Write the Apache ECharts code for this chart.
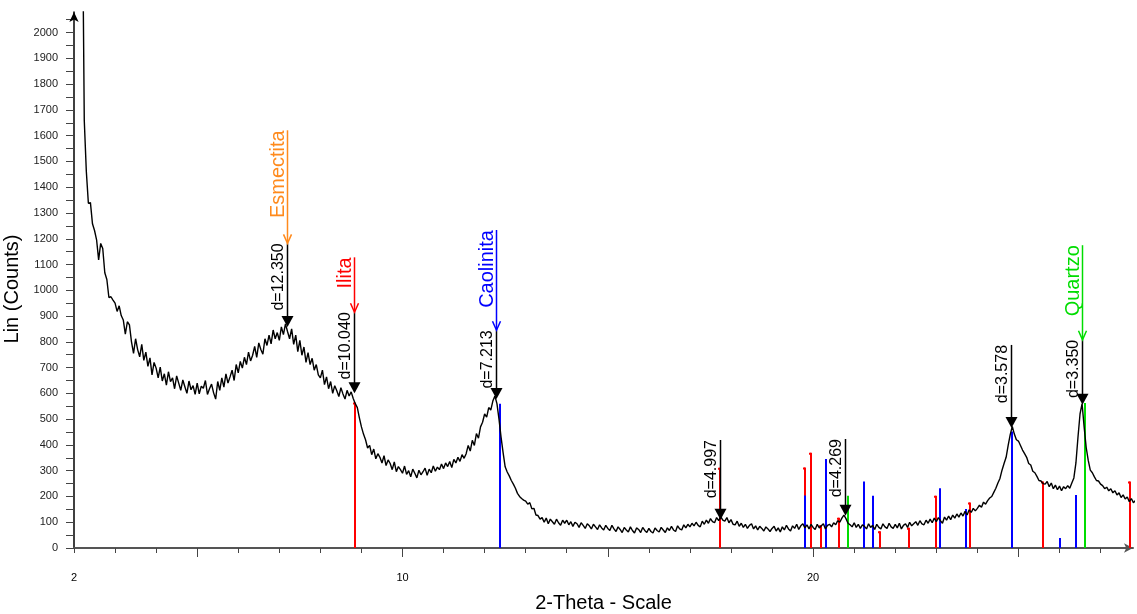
<!DOCTYPE html>
<html><head><meta charset="utf-8">
<script src="https://cdn.jsdelivr.net/npm/echarts@6/dist/echarts.min.js"></script>
<style>html,body{margin:0;padding:0;background:#fff}#c{width:1137px;height:614px}</style>
</head><body><div id="c"></div>
<script>
// ---------- DATA ----------
const scanStep = 0.05;
// each row: [start 2-theta, counts at start, start+step, ...]
const scanRows = [
  [2.20, 2600,1660,1462,1338,1340,1258,1232,1196,1118,1182,1162,1068,1042,972,975,962],
  [3.00, 950,918,940,902,885,830,878,866,800,755,812,770,742,790,728,760,705,738,672,720],
  [4.00, 698,660,702,648,676,632,684,646,660,618,668,640,612,652,626,600,648,614,630,596],
  [5.00, 640,598,628,620,650,596,618,636,602,578,646,612,660,624,676,640,664,690,650,712],
  [6.00, 680,724,698,740,712,760,726,748,782,740,796,770,752,812,786,826,792,846,812,836],
  [7.00, 806,858,828,870,840,812,850,790,826,762,806,748,780,720,758,712,736,690,712,672],
  [8.00, 660,690,634,664,618,646,600,630,610,588,622,598,578,612,590,606,580,560,545,505],
  [9.00, 470,442,420,388,398,362,384,346,366,352,330,358,320,342,328,304,334,296,316,304],
  [10.00, 290,318,286,300,276,306,290,272,302,284,296,310,282,306,292,318,298,314,304,326],
  [11.00, 308,330,316,336,312,344,330,352,336,362,348,366,398,376,418,398,444,426,470,488],
  [12.00, 520,508,545,535,570,590,560,500,430,370,315,295,280,262,248,232,212,200,192,186],
  [13.00, 182,170,176,152,154,128,126,112,118,100,116,94,112,102,92,112,98,88,108,96],
  [14.00, 108,90,102,84,100,94,80,98,88,76,94,86,74,92,82,72,90,78,70,88],
  [15.00, 76,68,88,74,64,82,72,60,80,70,62,82,68,58,78,72,60,80,68,60],
  [16.00, 76,64,58,78,68,62,80,70,60,78,68,84,70,64,86,74,70,90,78,92],
  [17.00, 82,96,86,100,88,82,104,92,108,96,114,102,98,118,106,122,108,104,118,98],
  [18.00, 110,92,90,104,84,96,80,92,76,88,94,74,86,70,84,76,66,82,74,64],
  [19.00, 76,84,66,78,62,82,70,88,74,66,86,76,92,72,86,94,78,90,74,92],
  [20.00, 80,72,92,78,86,94,74,88,92,82,98,90,106,100,116,128,114,96,90,82],
  [21.00, 98,80,92,76,90,84,74,94,80,88,72,92,80,74,94,82,76,96,82,76],
  [22.00, 92,78,96,74,88,94,80,100,86,94,102,88,106,94,90,108,96,112,98,116],
  [23.00, 102,118,106,96,120,108,124,110,128,116,132,120,136,124,142,128,148,138,154,144],
  [24.00, 154,166,158,178,170,184,194,200,216,232,252,270,302,328,352,398,440,472,442,420],
  [25.00, 415,398,380,366,352,328,322,298,292,278,262,260,250,248,258,238,252,230,244,226],
  [26.00, 240,222,238,230,242,232,252,272,330,430,520,560,470,390,340,302,292,276,262,260],
  [27.00, 248,242,230,236,222,230,214,222,206,214,196,206,190,198,180,192,176,184,170]
];

const xMinorTicks = [2,3,4,5,6,7,8,9,10,11,12,13,14,15,16,17,18,19,20,21,22,23,24,25,26,27];
const xMajorTicks = [5,10,15,20,25];
const xTickLabels = [2,10,20];
const yTicks = [0,50,100,150,200,250,300,350,400,450,500,550,600,650,700,750,800,850,900,950,1000,1050,1100,1150,1200,1250,1300,1350,1400,1450,1500,1550,1600,1650,1700,1750,1800,1850,1900,1950,2000,2050];
const yTickLabels = [0,100,200,300,400,500,600,700,800,900,1000,1100,1200,1300,1400,1500,1600,1700,1800,1900,2000];

// reference stick patterns (2-theta, height in counts)
const ilitaTheta  = [8.85, 17.72, 19.79, 19.94, 20.20, 20.62, 21.63, 22.34, 22.99, 23.83, 25.59, 27.71];
const ilitaHeight = [565, 311, 312, 370, 88, 117, 65, 79, 203, 177, 258, 258];
const caolinitaTheta  = [12.37, 19.81, 20.31, 21.23, 21.47, 23.09, 23.72, 24.84, 26.01, 26.39];
const caolinitaHeight = [560, 204, 345, 258, 203, 232, 151, 452, 39, 206];
const quartzoTheta  = [20.86, 26.61];
const quartzoHeight = [203, 563];

// peak d-spacing markers
const peakLabels = ['d=12.350','d=10.040','d=7.213','d=4.997','d=4.269','d=3.578','d=3.350'];
const peakTheta  = [7.18, 8.83, 12.27, 17.72, 20.78, 24.83, 26.54];
const peakCounts = [858, 601, 578, 110, 125, 466, 556];
const peakLineTop = [1182, 915, 845, 419, 423, 788, 808];

// phase identification arrows
const phaseNames = ['Esmectita','Ilita','Caolinita','Quartzo'];
const phaseTheta = [7.18, 8.83, 12.27, 26.54];
const phaseTop   = [1621, 1128, 1234, 1175];
const phaseBottom = [1182, 915, 845, 808];

// ---------- STYLE ----------
const FONT = '"Liberation Sans", Arial, Helvetica, sans-serif';
const phaseColors = ['#ff8a1c', '#ff0000', '#0000ff', '#00dd00'];
const RED = '#ff0000', BLUE = '#0000ff', GREEN = '#00dd00';

// ---------- BUILD ----------
const curve = [];
scanRows.forEach(row => {
  const start = row[0];
  for (let i = 1; i < row.length; i++) curve.push([+(start + (i - 1) * scanStep).toFixed(2), row[i]]);
});

function stickSeries(name, thetas, heights, color, cap) {
  return {
    type: 'custom', name: name, z: 2, clip: true, xAxisIndex: 0, yAxisIndex: 0,
    data: thetas.map((t, i) => [t, heights[i]]),
    renderItem: function (params, api) {
      const p0 = api.coord([api.value(0), 0]);
      const p1 = api.coord([api.value(0), api.value(1)]);
      const x = Math.round(p0[0]);
      const ch = [{ type: 'rect', shape: { x: x - 1, y: p1[1], width: 2, height: p0[1] - p1[1] }, style: { fill: color } }];
      if (cap) ch.push({ type: 'rect', shape: { x: x - 2, y: p1[1], width: 2, height: 2 }, style: { fill: color } });
      return { type: 'group', children: ch };
    }
  };
}

const option = {
  animation: false,
  backgroundColor: '#ffffff',
  grid: { left: 74, right: 4, top: 12, bottom: 66, containLabel: false, outerBoundsMode: 'none' },
  xAxis: [
    {
      type: 'value', min: 2, max: 27.79, position: 'bottom',
      name: '2-Theta - Scale', nameLocation: 'middle', nameGap: 45,
      nameTextStyle: { fontSize: 20, color: '#000', fontFamily: FONT },
      axisLine: { show: true, onZero: false, symbol: ['none', 'arrow'], symbolSize: [7, 9], lineStyle: { color: '#555', width: 2 } },
      axisTick: { show: true, customValues: xMinorTicks, length: 5, lineStyle: { color: '#444', width: 1 } },
      axisLabel: { show: true, customValues: xTickLabels, margin: 24, fontSize: 11, color: '#000', fontFamily: FONT, formatter: v => String(v) },
      splitLine: { show: false }
    },
    {
      type: 'value', min: 2, max: 27.79, position: 'bottom', offset: 0,
      axisLine: { show: false, onZero: false },
      axisTick: { show: true, customValues: xMajorTicks, length: 9, lineStyle: { color: '#444', width: 1 } },
      axisLabel: { show: false },
      splitLine: { show: false }
    }
  ],
  yAxis: {
    type: 'value', min: 0, max: 2080,
    name: 'Lin (Counts)', nameLocation: 'middle', nameGap: 46, nameRotate: 90,
    nameTextStyle: { fontSize: 20, color: '#000', fontFamily: FONT, padding: [0, 18, 0, 0] },
    axisLine: { show: true, onZero: false, symbol: ['none', 'arrow'], symbolSize: [7, 10], lineStyle: { color: '#000', width: 1.5 } },
    axisTick: { show: true, customValues: yTicks, length: 8, lineStyle: { color: '#444', width: 1 } },
    axisLabel: { show: true, customValues: yTickLabels, margin: 16, fontSize: 11, color: '#222', fontFamily: FONT, formatter: v => String(v) },
    splitLine: { show: false }
  },
  series: [
    stickSeries('Ilita', ilitaTheta, ilitaHeight, RED, true),
    stickSeries('Caolinita', caolinitaTheta, caolinitaHeight, BLUE, false),
    stickSeries('Quartzo', quartzoTheta, quartzoHeight, GREEN, false),
    {
      type: 'line', name: 'scan', data: curve, symbol: 'none', showSymbol: false, z: 3,
      lineStyle: { color: '#000', width: 1.4 }, clip: true
    },
    {
      type: 'custom', name: 'peaks', z: 5, clip: false,
      data: peakTheta.map((t, i) => [t, peakCounts[i], peakLineTop[i], i]),
      renderItem: function (params, api) {
        const i = api.value(3);
        const tip = api.coord([api.value(0), api.value(1)]);
        const top = api.coord([api.value(0), api.value(2)]);
        const x = Math.round(tip[0]) + 0.5;
        return {
          type: 'group', children: [
            { type: 'line', shape: { x1: x, y1: top[1], x2: x, y2: tip[1] - 8 }, style: { stroke: '#000', lineWidth: 1.5 } },
            { type: 'polygon', shape: { points: [[x - 6, tip[1] - 11], [x + 6, tip[1] - 11], [x, tip[1]]] }, style: { fill: '#000' } },
            { type: 'text', x: x - 1, y: top[1], rotation: Math.PI / 2,
              style: { text: peakLabels[i], fill: '#000', fontSize: 16, fontFamily: FONT, align: 'right', verticalAlign: 'bottom' } }
          ]
        };
      }
    },
    {
      type: 'custom', name: 'phases', z: 5, clip: false,
      data: phaseTheta.map((t, i) => [t, phaseBottom[i], phaseTop[i], i]),
      renderItem: function (params, api) {
        const i = api.value(3);
        const bot = api.coord([api.value(0), api.value(1)]);
        const top = api.coord([api.value(0), api.value(2)]);
        const x = Math.round(bot[0]) + 0.5;
        const c = phaseColors[i];
        return {
          type: 'group', children: [
            { type: 'line', shape: { x1: x, y1: top[1], x2: x, y2: bot[1] }, style: { stroke: c, lineWidth: 1.5 } },
            { type: 'polyline', shape: { points: [[x - 4, bot[1] - 9], [x, bot[1]], [x + 4, bot[1] - 9]] }, style: { stroke: c, lineWidth: 1.5, fill: null } },
            { type: 'text', x: x + 1, y: top[1], rotation: Math.PI / 2,
              style: { text: phaseNames[i], fill: c, fontSize: 20, fontFamily: FONT, align: 'right', verticalAlign: 'bottom' } }
          ]
        };
      }
    }
  ]
};

const chart = echarts.init(document.getElementById('c'), null, { renderer: 'canvas' });
chart.setOption(option);
</script>
</body></html>
